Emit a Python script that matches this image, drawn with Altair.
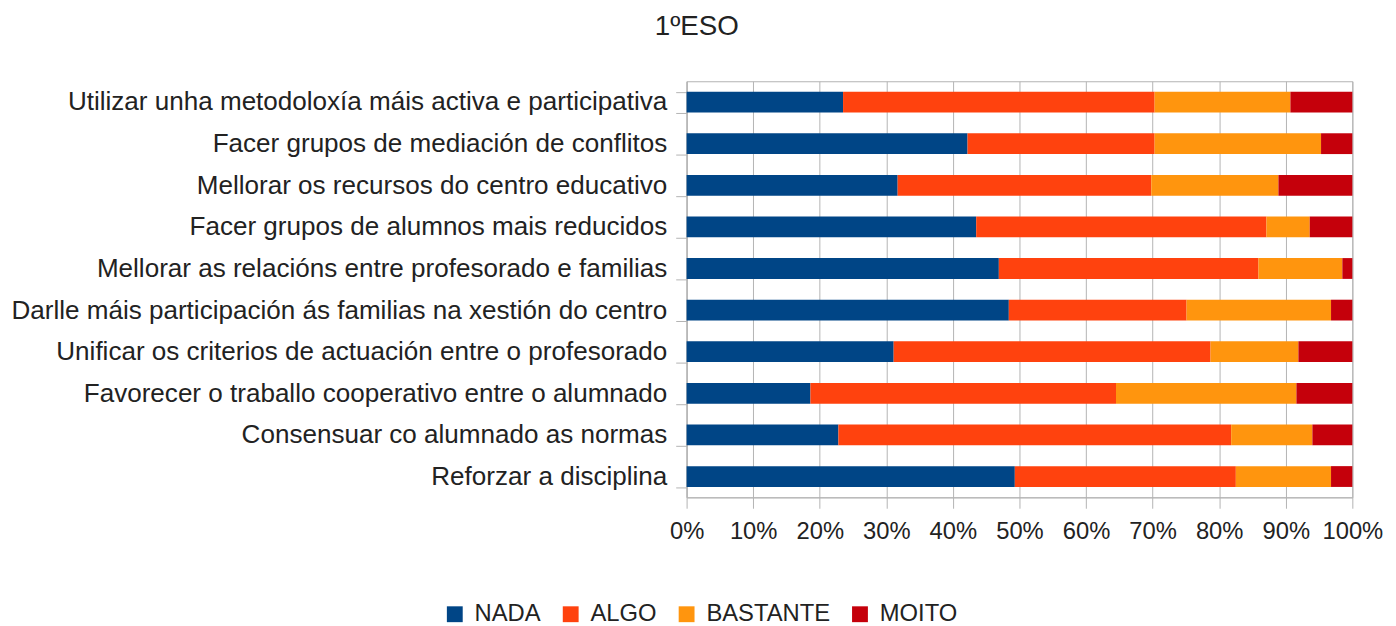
import altair as alt
import pandas as pd

categories = [
    "Utilizar unha metodoloxía máis activa e participativa",
    "Facer grupos de mediación de conflitos\u00a0",
    "Mellorar os recursos do centro educativo",
    "Facer grupos de alumnos mais reducidos\u00a0",
    "Mellorar as relacións entre profesorado e familias",
    "Darlle máis participación ás familias na xestión do centro",
    "Unificar os criterios de actuación entre o profesorado",
    "Favorecer o traballo cooperativo entre o alumnado",
    "Consensuar co alumnado as normas\u00a0",
    "Reforzar a disciplina",
]
series = ["NADA", "ALGO", "BASTANTE", "MOITO"]
colors = ["#004586", "#ff420e", "#ff950e", "#c5000b"]

nada = [23.5, 42.2, 31.7, 43.5, 46.9, 48.4, 31.1, 18.6, 22.8, 49.3]
algo = [46.8, 28.1, 38.1, 43.6, 39.0, 26.7, 47.6, 45.9, 59.0, 33.2]
bastante = [20.4, 25.0, 19.1, 6.5, 12.6, 21.7, 13.2, 27.1, 12.2, 14.3]
moito = [9.3, 4.7, 11.1, 6.4, 1.5, 3.2, 8.1, 8.4, 6.0, 3.2]

x_ticks = [0, 0.1, 0.2, 0.3, 0.4, 0.5, 0.6, 0.7, 0.8, 0.9, 1.0]

rows = []
for s_idx, (s, vals) in enumerate(zip(series, [nada, algo, bastante, moito])):
    for c, v in zip(categories, vals):
        rows.append({"cat": c, "serie": s, "value": v, "idx": s_idx})
df = pd.DataFrame(rows)

FONT = "Liberation Sans"
TXT = "#222222"
GRID = "#b3b3b3"

chart = alt.Chart(df).mark_bar().encode(
    y=alt.Y(
        "cat:N",
        sort=categories,
        title=None,
        scale=alt.Scale(paddingInner=0.5, paddingOuter=0.25),
        axis=alt.Axis(
            labelFont=FONT, labelFontSize=26.3, labelColor=TXT, labelPadding=9,
            tickSize=11, tickColor=GRID, tickBand="extent", domainColor=GRID,
            labelLimit=800, grid=False,
        ),
    ),
    x=alt.X(
        "value:Q",
        stack="normalize",
        title=None,
        scale=alt.Scale(domain=[0, 1], nice=False),
        axis=alt.Axis(
            format="%", values=x_ticks, labelFont=FONT, labelFontSize=24,
            labelColor=TXT, labelPadding=12, tickSize=11, tickColor=GRID,
            domainColor=GRID, grid=True, gridColor=GRID, labelFlush=False,
        ),
    ),
    color=alt.Color(
        "serie:N",
        scale=alt.Scale(domain=series, range=colors),
        legend=alt.Legend(
            title=None, orient="none", direction="horizontal",
            legendX=-246, legendY=526, symbolType="square", symbolSize=256,
            symbolStrokeWidth=0, labelFont=FONT, labelFontSize=24,
            labelColor=TXT, labelOffset=8, columnPadding=18,
        ),
    ),
    order=alt.Order("idx:Q"),
).properties(
    width=672,
    height=420,
    title=alt.TitleParams(
        "1ºESO", font=FONT, fontSize=28, fontWeight="normal", color=TXT,
        anchor="middle", frame="bounds", offset=28,
    ),
    padding={"left": 2, "top": 2, "right": 5, "bottom": 5},
).configure_view(stroke=GRID)

chart.save("out.html", embed_options={"renderer": "svg", "actions": False})
